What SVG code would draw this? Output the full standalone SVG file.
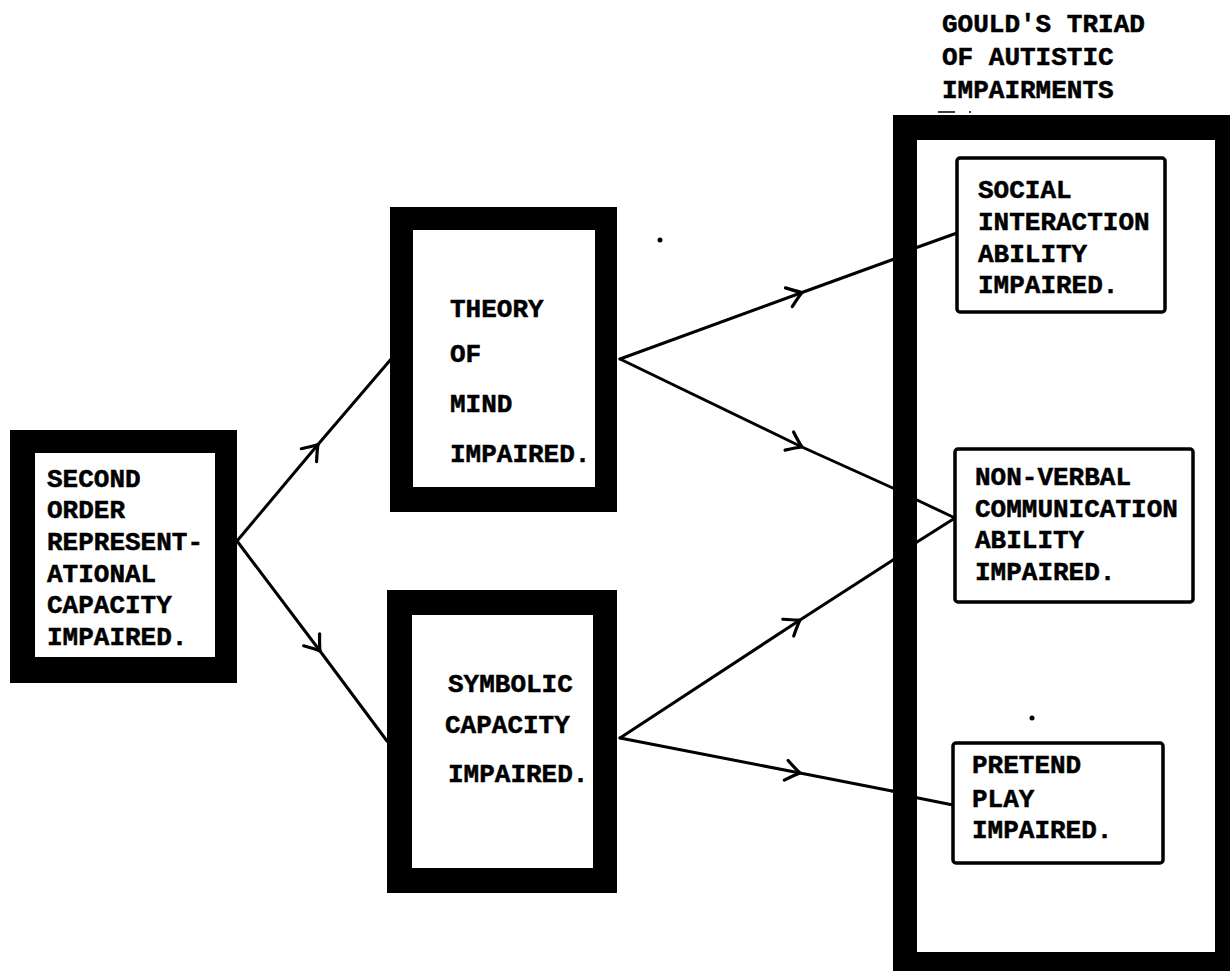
<svg xmlns="http://www.w3.org/2000/svg" width="1230" height="971" viewBox="0 0 1230 971">
<style>
.t{font-family:"Liberation Mono","DejaVu Sans Mono",monospace;font-weight:bold;font-size:26px;fill:#000;stroke:#000;stroke-width:0.5}
.frame{fill:#000}
.inner{fill:#fff}
.box{fill:#fff;stroke:#000;stroke-width:3.5}
.ln{fill:none;stroke:#000;stroke-width:3;stroke-linejoin:round;stroke-linecap:round}
</style>
<defs>
<marker id="chev" viewBox="-18 -12 22 24" markerWidth="22" markerHeight="24" refX="0" refY="0" orient="auto" markerUnits="userSpaceOnUse">
<path d="M-14,-10 Q-5,-3 0,0 Q-5,3 -14,10" fill="none" stroke="#000" stroke-width="3.2" stroke-linecap="round"/>
</marker>
</defs>
<rect width="1230" height="971" fill="#fff"/>

<g id="title">
<text class="t" x="942" y="32">GOULD'S TRIAD</text>
<text class="t" x="942" y="65">OF AUTISTIC</text>
<text class="t" x="942" y="98">IMPAIRMENTS</text>
<line x1="938" y1="112" x2="955" y2="112" stroke="#000" stroke-width="1.5"/>
<circle cx="970" cy="112" r="1"/>
</g>

<g id="triad-frame">
<rect class="frame" x="893" y="115" width="350" height="870"/>
<rect class="inner" x="917" y="140" width="298" height="812"/>
</g>

<g id="connectors">
<path class="ln" d="M237,541 L318,444.5 L392,358" marker-mid="url(#chev)"/>
<path class="ln" d="M237,541 L320,651 L387,741" marker-mid="url(#chev)"/>
<path class="ln" d="M620,359 L802,292.5 L897,258" marker-mid="url(#chev)"/>
<path class="ln" d="M897,258 L918,247 L957,233"/>
<path class="ln" d="M620,359 L802,447 L895,489" marker-mid="url(#chev)"/>
<path class="ln" d="M895,489 L917,500 L955,518"/>
<path class="ln" d="M620,738 L800,620 L893,560" marker-mid="url(#chev)"/>
<path class="ln" d="M893,560 L917,542 L955,518"/>
<path class="ln" d="M620,738 L800,773 L892,791" marker-mid="url(#chev)"/>
<path class="ln" d="M892,791 L918,798 L953,805"/>
</g>

<g id="second-order">
<rect class="frame" x="10" y="430" width="227" height="253"/>
<rect class="inner" x="35" y="453" width="180" height="204"/>
<text class="t" x="47" y="487">SECOND</text>
<text class="t" x="47" y="518">ORDER</text>
<text class="t" x="47" y="550">REPRESENT-</text>
<text class="t" x="47" y="582">ATIONAL</text>
<text class="t" x="47" y="613">CAPACITY</text>
<text class="t" x="47" y="645">IMPAIRED.</text>
</g>

<g id="theory-of-mind">
<rect class="frame" x="390" y="207" width="227" height="305"/>
<rect class="inner" x="413" y="230" width="182" height="257"/>
<text class="t" x="450" y="317">THEORY</text>
<text class="t" x="450" y="362">OF</text>
<text class="t" x="450" y="412">MIND</text>
<text class="t" x="450" y="462">IMPAIRED.</text>
</g>

<g id="symbolic">
<rect class="frame" x="387" y="590" width="230" height="303"/>
<rect class="inner" x="412" y="615" width="181" height="253"/>
<text class="t" x="448" y="692">SYMBOLIC</text>
<text class="t" x="445" y="733">CAPACITY</text>
<text class="t" x="448" y="782">IMPAIRED.</text>
</g>

<g id="social">
<rect class="box" x="957" y="158" width="208" height="154" rx="3"/>
<text class="t" x="978" y="198">SOCIAL</text>
<text class="t" x="978" y="230">INTERACTION</text>
<text class="t" x="978" y="262">ABILITY</text>
<text class="t" x="978" y="293">IMPAIRED.</text>
</g>

<g id="non-verbal">
<rect class="box" x="955" y="449" width="238" height="153" rx="3"/>
<text class="t" x="975" y="485">NON-VERBAL</text>
<text class="t" x="975" y="517">COMMUNICATION</text>
<text class="t" x="975" y="548">ABILITY</text>
<text class="t" x="975" y="580">IMPAIRED.</text>
</g>

<g id="pretend-play">
<rect class="box" x="953" y="743" width="210" height="120" rx="3"/>
<text class="t" x="972" y="773">PRETEND</text>
<text class="t" x="972" y="807">PLAY</text>
<text class="t" x="972" y="838">IMPAIRED.</text>
</g>

<g id="specks">
<circle cx="660" cy="240" r="2.5"/>
<circle cx="1032" cy="718" r="2.5"/>
</g>
</svg>
